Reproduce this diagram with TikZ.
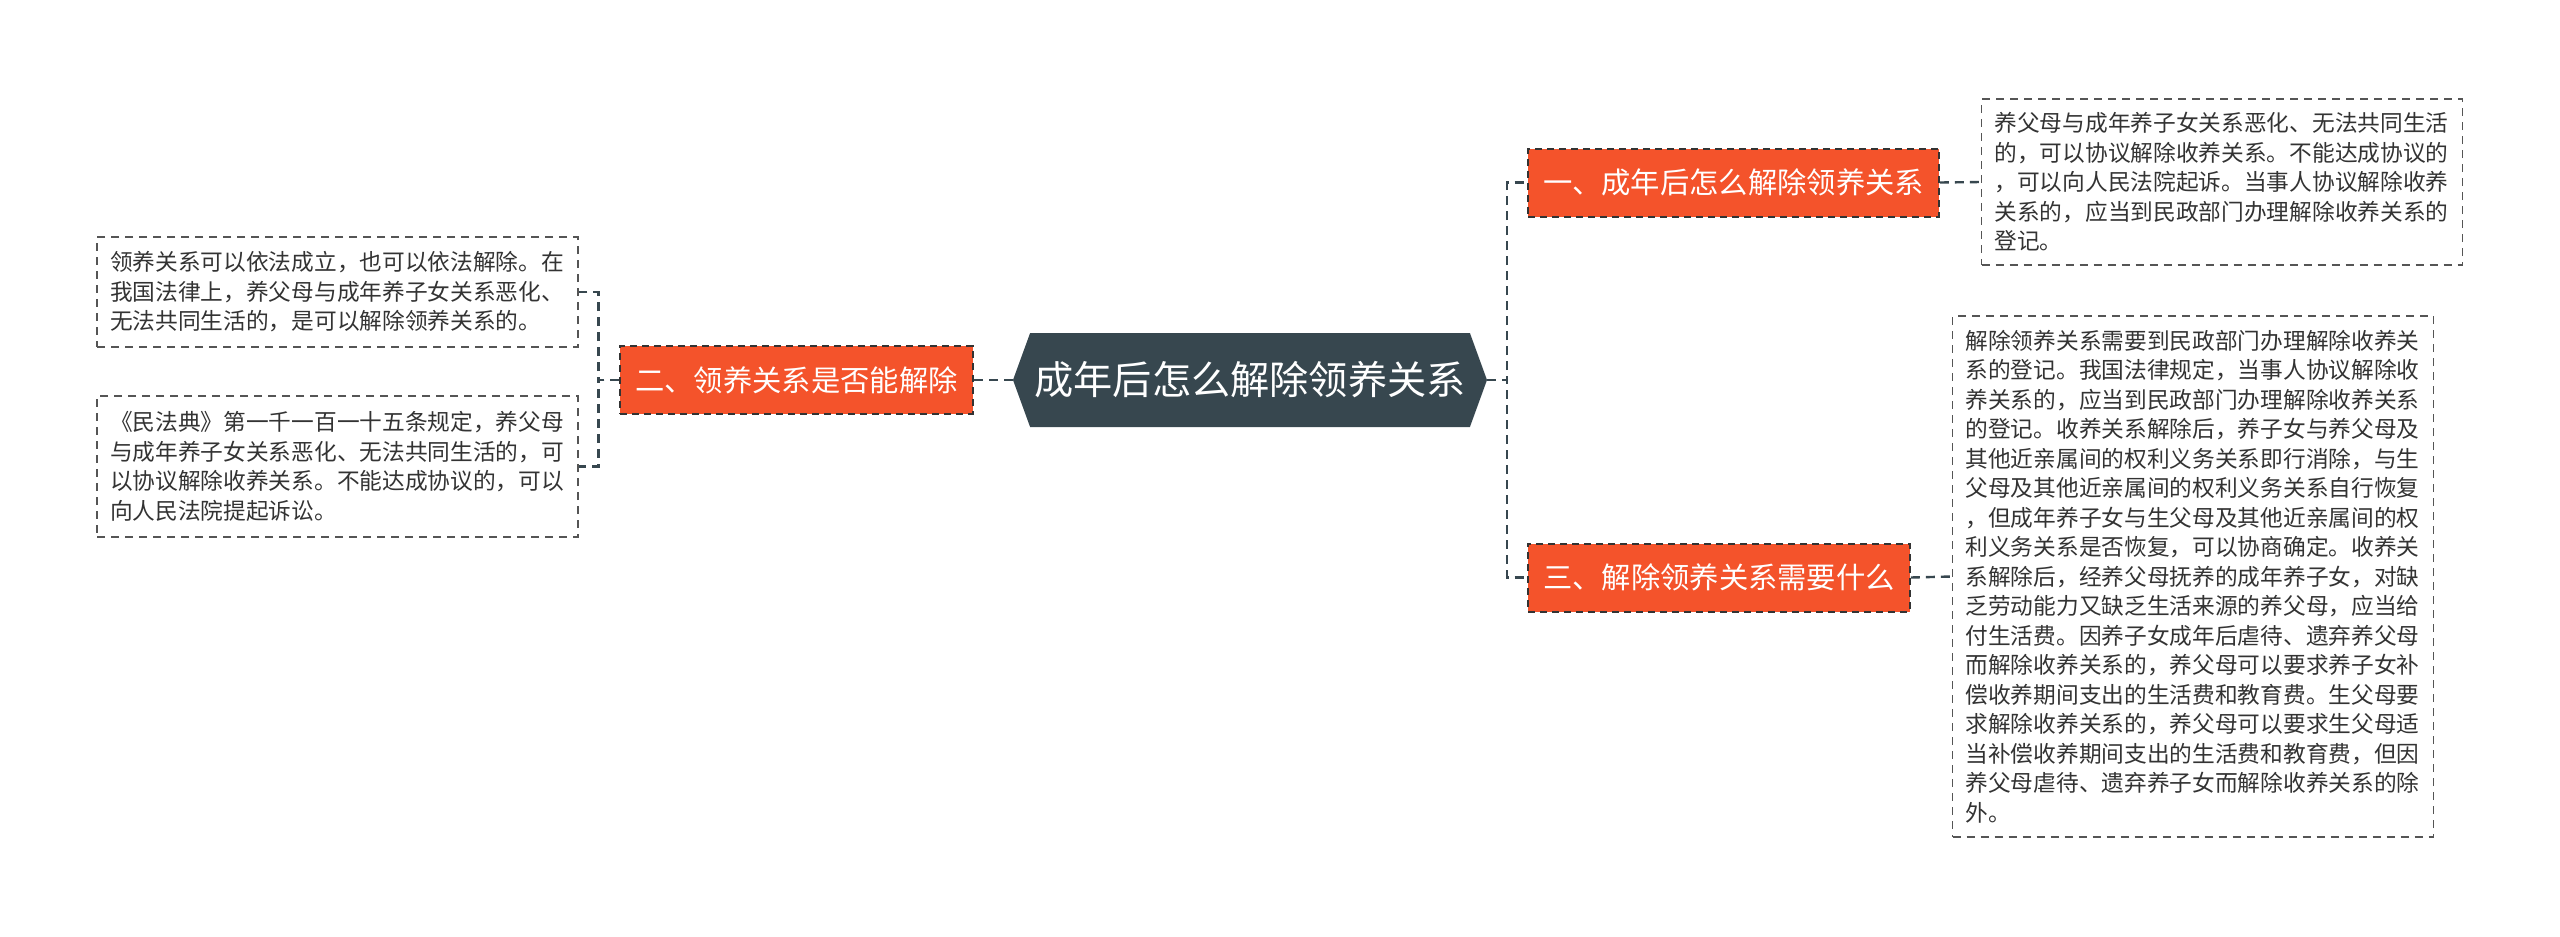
\documentclass[tikz,border=0pt]{standalone}
\usepackage{fontspec}
\setmainfont{Noto Sans CJK SC}
\newfontfamily\cjk{Noto Sans CJK SC}
\usetikzlibrary{shapes.symbols}
\definecolor{slate}{HTML}{37474F}
\definecolor{tomato}{HTML}{F4532B}
\definecolor{inkgray}{HTML}{333333}
\definecolor{framegray}{HTML}{555555}

\begin{document}
\begin{tikzpicture}[x=1pt, y=-1pt,
  rootnode/.style={signal, signal to=west and east, signal pointer angle=140,
    fill=slate, text=white, inner sep=0pt, minimum width=474pt, minimum height=94pt,
    font=\cjk\fontsize{39.2}{44}\selectfont},
  branchnode/.style={rectangle, fill=tomato, draw=inkgray, line width=2pt,
    dash pattern=on 7pt off 5pt, text=white, inner xsep=15pt, inner ysep=0pt,
    minimum height=68pt, font=\cjk\fontsize{29.3}{34}\selectfont},
  leafnode/.style={rectangle, draw=framegray, line width=1.8pt,
    dash pattern=on 8pt off 6pt, text=inkgray, align=left, text width=455pt,
    inner xsep=13pt, inner ysep=0pt, font=\cjk\fontsize{22.7}{29.5}\selectfont},
  link/.style={draw=slate, line width=2.4pt, dash pattern=on 9pt off 6pt}]
  \useasboundingbox (0,0) rectangle (2560,937);

  % centre and the three headings
  \node[rootnode] (root) at (1250,380) {成年后怎么解除领养关系};
  \node[branchnode] (brL) at (796.5,380) {二、领养关系是否能解除};
  \node[branchnode] (brA) at (1733.5,182.5) {一、成年后怎么解除领养关系};
  \node[branchnode] (brC) at (1719,577.5) {三、解除领养关系需要什么};

  % text boxes
  \node[leafnode, minimum height=110pt] (leafA) at (337.5,292) {领养关系可以依法成立，也可以依法解除。在\\
    我国法律上，养父母与成年养子女关系恶化、\\
    无法共同生活的，是可以解除领养关系的。};
  \node[leafnode, minimum height=141pt] (leafB) at (337.5,466.5) {《民法典》第一千一百一十五条规定，养父母\\
    与成年养子女关系恶化、无法共同生活的，可\\
    以协议解除收养关系。不能达成协议的，可以\\
    向人民法院提起诉讼。};
  \node[leafnode, minimum height=166pt] (leafC) at (2222,182) {养父母与成年养子女关系恶化、无法共同生活\\
    的，可以协议解除收养关系。不能达成协议的\\
    ，可以向人民法院起诉。当事人协议解除收养\\
    关系的，应当到民政部门办理解除收养关系的\\
    登记。};
  \node[leafnode, minimum height=521pt] (leafD) at (2193,576.5) {解除领养关系需要到民政部门办理解除收养关\\
    系的登记。我国法律规定，当事人协议解除收\\
    养关系的，应当到民政部门办理解除收养关系\\
    的登记。收养关系解除后，养子女与养父母及\\
    其他近亲属间的权利义务关系即行消除，与生\\
    父母及其他近亲属间的权利义务关系自行恢复\\
    ，但成年养子女与生父母及其他近亲属间的权\\
    利义务关系是否恢复，可以协商确定。收养关\\
    系解除后，经养父母抚养的成年养子女，对缺\\
    乏劳动能力又缺乏生活来源的养父母，应当给\\
    付生活费。因养子女成年后虐待、遗弃养父母\\
    而解除收养关系的，养父母可以要求养子女补\\
    偿收养期间支出的生活费和教育费。生父母要\\
    求解除收养关系的，养父母可以要求生父母适\\
    当补偿收养期间支出的生活费和教育费，但因\\
    养父母虐待、遗弃养子女而解除收养关系的除\\
    外。};

  % connectors
  \draw[link] (root.west) -- (brL.east);
  \draw[link] (brL.west) -- ++(-21,0) |- (leafA.east);
  \draw[link] (brL.west) -- ++(-21,0) |- (leafB.east);
  \draw[link] (root.east) -- ++(20,0) |- (brA.west);
  \draw[link] (root.east) -- ++(20,0) |- (brC.west);
  \draw[link] (brA.east) -- (leafC.west);
  \draw[link] (brC.east) -- (leafD.west);
\end{tikzpicture}
\end{document}
